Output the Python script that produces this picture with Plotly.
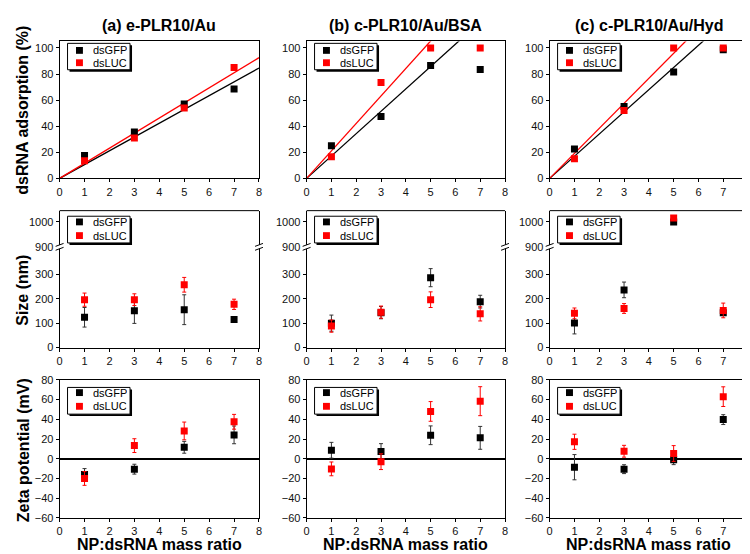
import numpy as np
import plotly.graph_objects as go

W, H = 750, 554

# ---------------- data ----------------
ratios = [1, 3, 5, 7]
series_names = ["dsGFP", "dsLUC"]
panel_titles = ["(a) e-PLR10/Au", "(b) c-PLR10/Au/BSA", "(c) c-PLR10/Au/Hyd"]
row_titles = ["dsRNA adsorption (%)", "Size (nm)", "Zeta potential (mV)"]
x_title = "NP:dsRNA mass ratio"

x_ticks = [0, 1, 2, 3, 4, 5, 6, 7, 8]
ads_ticks = [0, 20, 40, 60, 80, 100]
size_ticks_low = [0, 100, 200, 300]
size_ticks_high = [900, 1000]
zeta_ticks = [-60, -40, -20, 0, 20, 40, 60, 80]

# dsRNA adsorption (%)
ads_gfp_a = [17.5, 35.5, 57.0, 68.5]
ads_luc_a = [13.5, 31.0, 54.0, 85.0]
ads_gfp_b = [25.0, 47.5, 86.5, 83.5]
ads_luc_b = [16.5, 73.5, 100.0, 100.0]
ads_gfp_c = [22.5, 55.0, 81.5, 98.5]
ads_luc_c = [15.0, 52.0, 100.0, 100.0]
fit_npts = [4, 3, 3]  # number of points used in the through-origin linear fit

# Size (nm)
size_gfp_a = [124, 151, 155, 115]
size_gfp_a_err = [40, 52, 61, 5]
size_luc_a = [196, 196, 257, 177]
size_luc_a_err = [27, 24, 30, 21]
size_gfp_b = [100, 143, 286, 188]
size_gfp_b_err = [33, 25, 37, 26]
size_luc_b = [88, 145, 196, 138]
size_luc_b_err = [25, 25, 32, 29]
size_gfp_c = [101, 236, 1000, 143]
size_gfp_c_err = [45, 32, 0, 10]
size_luc_c = [140, 160, 1016, 152]
size_luc_c_err = [22, 20, 0, 30]
size_break_low = 412   # top of lower segment
size_break_high = 900  # bottom of upper segment

# Zeta potential (mV)
zeta_gfp_a = [-16.0, -10.6, 11.6, 24.2]
zeta_gfp_a_err = [6, 5, 6, 9]
zeta_luc_a = [-20.0, 13.3, 28.2, 37.5]
zeta_luc_a_err = [7, 7, 9, 7.5]
zeta_gfp_b = [8.6, 7.3, 23.8, 21.2]
zeta_gfp_b_err = [8, 8, 9.5, 11.6]
zeta_luc_b = [-10.3, -3.0, 48.0, 58.4]
zeta_luc_b_err = [7, 8, 10, 14.7]
zeta_gfp_c = [-8.6, -10.6, -1.0, 39.7]
zeta_gfp_c_err = [12.8, 4.5, 5, 5]
zeta_luc_c = [17.2, 7.6, 5.3, 63.0]
zeta_luc_c_err = [7.7, 6, 8, 10]

ads = [(ads_gfp_a, ads_luc_a), (ads_gfp_b, ads_luc_b), (ads_gfp_c, ads_luc_c)]
sizes = [((size_gfp_a, size_gfp_a_err), (size_luc_a, size_luc_a_err)),
         ((size_gfp_b, size_gfp_b_err), (size_luc_b, size_luc_b_err)),
         ((size_gfp_c, size_gfp_c_err), (size_luc_c, size_luc_c_err))]
zetas = [((zeta_gfp_a, zeta_gfp_a_err), (zeta_luc_a, zeta_luc_a_err)),
         ((zeta_gfp_b, zeta_gfp_b_err), (zeta_luc_b, zeta_luc_b_err)),
         ((zeta_gfp_c, zeta_gfp_c_err), (zeta_luc_c, zeta_luc_c_err))]

# ---------------- style / layout ----------------
FONT = "Liberation Sans, Arial, sans-serif"
colors = ["#000000", "#ff0000"]
err_colors = ["#333333", "#ff0000"]
MSIZE = 7

col_px = [(49, 250), (298, 498), (543, 743)]
row_top = (28, 168)
row_mid_hi = (201, 238)
row_mid_lo = (238, 341)
row_bot = (374, 515)


def xd(p):
    return [p[0] / W, p[1] / W]


def yd(p):
    return [1 - p[1] / H, 1 - p[0] / H]


def px(x):
    return x / W


def py(y):
    return 1 - y / H


fig = go.Figure()

# top row: adsorption with through-origin fits
for i in range(3):
    xa, ya = f"x{i+1}", f"y{i+1}"
    n = fit_npts[i]
    for s in range(2):
        vals = ads[i][s]
        xx = np.array(ratios[:n], dtype=float)
        yy = np.array(vals[:n], dtype=float)
        slope = (xx * yy).sum() / (xx * xx).sum()
        xl = np.array([0.0, 8.0])
        fig.add_trace(go.Scatter(x=xl, y=slope * xl, mode="lines",
                                 line=dict(color=colors[s], width=1.3),
                                 xaxis=xa, yaxis=ya, showlegend=False, hoverinfo="skip"))
    for s in range(2):
        fig.add_trace(go.Scatter(x=ratios, y=ads[i][s], mode="markers", name=series_names[s],
                                 marker=dict(symbol="square", size=MSIZE, color=colors[s]),
                                 xaxis=xa, yaxis=ya, showlegend=False))

# middle row: size with broken axis
for i in range(3):
    xa, ylo, yhi = f"x{4+i}", f"y{4+i}", f"y{10+i}"
    for s in range(2):
        vals, err = sizes[i][s]
        lo = [v if v < size_break_high else None for v in vals]
        hi = [v if v >= size_break_high else None for v in vals]
        for yy, ya in ((lo, ylo), (hi, yhi)):
            fig.add_trace(go.Scatter(
                x=ratios, y=yy, mode="markers", name=series_names[s],
                marker=dict(symbol="square", size=MSIZE, color=colors[s]),
                error_y=dict(type="data", array=err, visible=True, thickness=1,
                             width=2, color=err_colors[s]),
                xaxis=xa, yaxis=ya, showlegend=False))

# bottom row: zeta potential
for i in range(3):
    xa, ya = f"x{7+i}", f"y{7+i}"
    for s in range(2):
        vals, err = zetas[i][s]
        fig.add_trace(go.Scatter(
            x=ratios, y=vals, mode="markers", name=series_names[s],
            marker=dict(symbol="square", size=MSIZE, color=colors[s]),
            error_y=dict(type="data", array=err, visible=True, thickness=1,
                         width=2, color=err_colors[s]),
            xaxis=xa, yaxis=ya, showlegend=False))

tickfont = dict(family=FONT, size=11, color="#111111")
base = dict(showgrid=False, zeroline=False, ticks="outside", ticklen=3, tickwidth=1,
            tickcolor="#000000", linecolor="#000000", linewidth=1, tickfont=tickfont)

layout = dict(width=W, height=H, margin=dict(l=0, r=0, t=0, b=0),
              paper_bgcolor="white", plot_bgcolor="white", showlegend=False,
              font=dict(family=FONT, color="#000000"))

for i in range(3):
    cx = xd(col_px[i])
    # top
    layout[f"xaxis{i+1}"] = dict(base, domain=cx, anchor=f"y{i+1}", range=[0, 8],
                                 tickvals=x_ticks, showline=True, mirror=True)
    layout[f"yaxis{i+1}"] = dict(base, domain=yd(row_top), anchor=f"x{i+1}", range=[0, 105],
                                 tickvals=ads_ticks, showline=True, mirror=True)
    # middle
    layout[f"xaxis{4+i}"] = dict(base, domain=cx, anchor=f"y{4+i}", range=[0, 8],
                                 tickvals=x_ticks, showline=True, mirror=False)
    layout[f"yaxis{4+i}"] = dict(base, domain=yd(row_mid_lo), anchor=f"x{4+i}",
                                 range=[0, size_break_low], tickvals=size_ticks_low,
                                 showline=True, mirror=True)
    layout[f"yaxis{10+i}"] = dict(base, domain=yd(row_mid_hi), anchor=f"x{4+i}",
                                  range=[size_break_high, 1045], tickvals=size_ticks_high,
                                  showline=True, mirror=True)
    # bottom
    layout[f"xaxis{7+i}"] = dict(base, domain=cx, anchor=f"y{7+i}", range=[0, 8],
                                 tickvals=x_ticks, showline=True, mirror=True)
    layout[f"yaxis{7+i}"] = dict(base, domain=yd(row_bot), anchor=f"x{7+i}", range=[-60, 80],
                                 tickvals=zeta_ticks, showline=True, mirror=True,
                                 zeroline=True, zerolinecolor="#000000", zerolinewidth=1.5)

shapes = []
annotations = []

for i in range(3):
    x0, x1 = col_px[i]
    # top border of broken-axis panel
    shapes.append(dict(type="line", xref="paper", yref="paper",
                       x0=px(x0), x1=px(x1), y0=py(row_mid_hi[0]), y1=py(row_mid_hi[0]),
                       line=dict(color="#000000", width=1)))
    # break marks
    for bx in (x0, x1):
        shapes.append(dict(type="path", xref="paper", yref="paper",
                           path=(f"M {px(bx-4)} {py(238+3.5)} L {px(bx+4)} {py(238+0.5)} "
                                 f"L {px(bx+4)} {py(238-3.5)} L {px(bx-4)} {py(238-0.5)} Z"),
                           fillcolor="white", line=dict(width=0)))
        for dy in (-2, 2):
            shapes.append(dict(type="line", xref="paper", yref="paper",
                               x0=px(bx - 4), x1=px(bx + 4),
                               y0=py(238 + dy + 1.5), y1=py(238 + dy - 1.5),
                               line=dict(color="#000000", width=1)))

    # column titles and x titles
    annotations.append(dict(text=f"<b>{panel_titles[i]}</b>", xref="paper", yref="paper",
                            x=px((x0 + x1) / 2), y=py(12), showarrow=False,
                            xanchor="center", yanchor="middle",
                            font=dict(family=FONT, size=16, color="#000000")))
    annotations.append(dict(text=f"<b>{x_title}</b>", xref="paper", yref="paper",
                            x=px((x0 + x1) / 2), y=py(542), showarrow=False,
                            xanchor="center", yanchor="middle", borderpad=0,
                            font=dict(family=FONT, size=16, color="#000000")))

    # manual legends (box with shadow, square markers, labels)
    for (top, box_dy, m_dy) in ((row_top[0], (2, 29), (9.2, 21.8)),
                                (row_mid_hi[0], (5.7, 33), (11.5, 25.5)),
                                (row_bot[0], (7.7, 35), (13.0, 27))):
        bx0, bx1 = x0 + 8, x0 + 71
        by0, by1 = top + box_dy[0], top + box_dy[1]
        shapes.append(dict(type="rect", xref="paper", yref="paper",
                           x0=px(bx0 + 2), x1=px(bx1 + 2), y0=py(by1 + 2), y1=py(by0 + 2),
                           fillcolor="#000000", line=dict(width=0)))
        shapes.append(dict(type="rect", xref="paper", yref="paper",
                           x0=px(bx0), x1=px(bx1), y0=py(by1), y1=py(by0),
                           fillcolor="white", line=dict(color="#000000", width=1)))
        for s in range(2):
            my = top + m_dy[s]
            mx = x0 + 20
            shapes.append(dict(type="rect", xref="paper", yref="paper",
                               x0=px(mx - 3.5), x1=px(mx + 3.5), y0=py(my + 3.5), y1=py(my - 3.5),
                               fillcolor=colors[s], line=dict(width=0)))
            annotations.append(dict(text=series_names[s], xref="paper", yref="paper",
                                    x=px(x0 + 33), y=py(my), showarrow=False,
                                    xanchor="left", yanchor="middle", height=12,
                                    borderpad=0, valign="middle",
                                    font=dict(family=FONT, size=11, color="#000000")))

# row titles
for txt, yc in zip(row_titles, (98, 282, 446)):
    annotations.append(dict(text=f"<b>{txt}</b>", xref="paper", yref="paper",
                            x=px(12), y=py(yc), showarrow=False, textangle=-90,
                            xanchor="center", yanchor="middle",
                            font=dict(family=FONT, size=16, color="#000000")))

layout["shapes"] = shapes
layout["annotations"] = annotations
fig.update_layout(**layout)
fig.write_html("out.html")
